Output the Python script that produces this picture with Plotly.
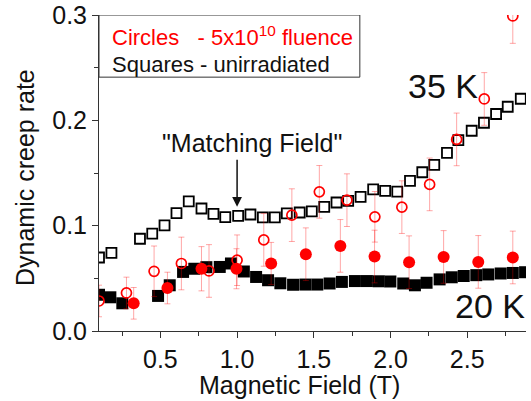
import plotly.graph_objects as go

# 35 K, unirradiated (open squares)
sq35_x = [0.100, 0.181, 0.367, 0.447, 0.527, 0.605, 0.685, 0.768, 0.846, 0.923,
          1.007, 1.087, 1.168, 1.246, 1.324, 1.408, 1.487, 1.568, 1.648, 1.724,
          1.805, 1.887, 1.965, 2.044, 2.127, 2.207, 2.285, 2.368, 2.442, 2.529,
          2.609, 2.688, 2.764, 2.849]
sq35_y = [0.0698, 0.0741, 0.0876, 0.0924, 0.1003, 0.1119, 0.1230, 0.1163, 0.1112, 0.1081,
          0.1093, 0.1106, 0.1078, 0.1078, 0.1116, 0.1125, 0.1135, 0.1179, 0.1220, 0.1236,
          0.1274, 0.1345, 0.1331, 0.1323, 0.1425, 0.1507, 0.1577, 0.1691, 0.1813, 0.1901,
          0.1977, 0.2060, 0.2129, 0.2205]

# 20 K, unirradiated (filled squares)
sq20_x = [0.100, 0.174, 0.252, 0.485, 0.561, 0.648, 0.721, 0.800, 0.887, 0.960,
          1.044, 1.124, 1.202, 1.282, 1.365, 1.445, 1.523, 1.603, 1.683, 1.768,
          1.846, 1.923, 1.999, 2.083, 2.159, 2.235, 2.320, 2.399, 2.477, 2.559,
          2.637, 2.718, 2.797, 2.877]
sq20_y = [0.0344, 0.0320, 0.0263, 0.0333, 0.0434, 0.0561, 0.0591, 0.0606, 0.0608, 0.0641,
          0.0565, 0.0513, 0.0482, 0.0453, 0.0439, 0.0441, 0.0441, 0.0451, 0.0466, 0.0474,
          0.0474, 0.0472, 0.0470, 0.0451, 0.0434, 0.0458, 0.0490, 0.0510, 0.0522, 0.0530,
          0.0537, 0.0546, 0.0551, 0.0558]

# 35 K, 5x10^10 fluence (open circles)
c35_x = [0.100, 0.279, 0.459, 0.637, 0.817, 1.000, 1.174, 1.357, 1.536, 1.716,
         1.898, 2.074, 2.255, 2.431, 2.611, 2.797]
c35_y = [0.0285, 0.0361, 0.0567, 0.0641, 0.0570, 0.0672, 0.0865, 0.1100, 0.1321, 0.1242,
         0.1084, 0.1176, 0.1392, 0.1819, 0.2203, 0.2991]
c35_err = [0.015, 0.015, 0.024, 0.025, 0.025, 0.024, 0.025, 0.025, 0.025, 0.025,
           0.024, 0.025, 0.025, 0.025, 0.025, 0.026]

# 20 K, 5x10^10 fluence (filled circles)
c20_x = [0.326, 0.546, 0.768, 0.996, 1.222, 1.448, 1.673, 1.896, 2.121, 2.346, 2.572, 2.797]
c20_y = [0.0263, 0.0408, 0.0591, 0.0591, 0.0641, 0.0729, 0.0808, 0.0707, 0.0653, 0.0703,
         0.0656, 0.0698]
c20_err = [0.015, 0.015, 0.021, 0.019, 0.020, 0.025, 0.025, 0.025, 0.025, 0.025, 0.025, 0.025]

x_ticks = [0.5, 1.0, 1.5, 2.0, 2.5]
y_ticks = [0.0, 0.1, 0.2, 0.3]

FONT = "Liberation Sans, Arial, sans-serif"
RED = "#ff0000"
ERR = "rgba(255,0,0,0.35)"

fig = go.Figure()
fig.add_trace(go.Scatter(x=sq35_x, y=sq35_y, mode="markers",
                         marker=dict(symbol="square-open", size=10, color="black",
                                     line=dict(width=1.8, color="black"))))
fig.add_trace(go.Scatter(x=sq20_x, y=sq20_y, mode="markers",
                         marker=dict(symbol="square", size=12, color="black",
                                     line=dict(width=0))))
fig.add_trace(go.Scatter(x=c35_x, y=c35_y, mode="markers",
                         error_y=dict(type="data", array=c35_err, color=ERR, thickness=1, width=3),
                         marker=dict(symbol="circle-open", size=10, color=RED,
                                     line=dict(width=1.7, color=RED))))
fig.add_trace(go.Scatter(x=c20_x, y=c20_y, mode="markers",
                         error_y=dict(type="data", array=c20_err, color=ERR, thickness=1, width=3),
                         marker=dict(symbol="circle", size=12, color=RED, line=dict(width=0))))

axis_common = dict(showgrid=False, zeroline=False, showline=True, linecolor="#333333",
                   linewidth=1, tickcolor="#333333", ticklen=6, tickwidth=1,
                   ticklabeloverflow="allow",
                   tickfont=dict(family=FONT, size=25, color="#111111"))

fig.update_layout(
    width=531, height=401,
    margin=dict(l=99, r=5, t=15, b=70, autoexpand=False),
    paper_bgcolor="white", plot_bgcolor="white",
    showlegend=False,
    font=dict(family=FONT, color="#111111"),
    xaxis=dict(range=[0.1, 2.883], tickvals=x_ticks, ticktext=[f"{v:.1f}" for v in x_ticks],
               ticks="outside",
               minor=dict(dtick=0.25, tick0=0, ticks="outside", ticklen=4, tickcolor="#333333"),
               **axis_common),
    yaxis=dict(range=[0, 0.3], tickvals=y_ticks, ticktext=[f"{v:.1f}" for v in y_ticks],
               ticks="outside",
               minor=dict(dtick=0.05, tick0=0, ticks="outside", ticklen=4, tickcolor="#333333"),
               **axis_common),
    xaxis2=dict(overlaying="x", matches="x", side="top", anchor="y", showgrid=False,
                zeroline=False, showline=True, linecolor="#333333", ticks="inside",
                ticklen=6, tickcolor="#333333", tickvals=x_ticks, showticklabels=False),
    yaxis2=dict(overlaying="y", matches="y", side="right", anchor="x", showgrid=False,
                zeroline=False, showline=True, linecolor="#333333", ticks="inside",
                ticklen=6, tickcolor="#333333", tickvals=y_ticks, showticklabels=False),
)

# legend box (white, covering top ticks)
fig.add_shape(type="rect", xref="x", yref="y", x0=0.1, x1=1.8, y0=0.241, y1=0.3,
              fillcolor="white", line=dict(color="#333333", width=1), layer="above")

anns = [
    dict(text="Circles\u00a0\u00a0\u00a0- 5x10<sup>10</sup> fluence", xref="paper", yref="paper",
         x=(110 - 99) / 427, y=(331 - 36) / 316, xanchor="left", yanchor="middle",
         font=dict(size=22, color=RED, family=FONT), showarrow=False),
    dict(text="Squares - unirradiated", xref="paper", yref="paper",
         x=(110 - 99) / 427, y=(331 - 64) / 316, xanchor="left", yanchor="middle",
         font=dict(size=22, color="#111111", family=FONT), showarrow=False),
    dict(text="\"Matching Field\"", xref="x", yref="y", x=1.099, y=0.1787,
         xanchor="center", yanchor="middle", font=dict(size=25, color="#111111", family=FONT),
         showarrow=False),
    dict(text="", xref="x", yref="y", x=1.0, y=0.118, axref="x", ayref="y", ax=1.0, ay=0.164,
         showarrow=True, arrowhead=2, arrowsize=1.3, arrowwidth=1.5, arrowcolor="#111111"),
    dict(text="35 K", xref="x", yref="y", x=2.342, y=0.2326, xanchor="center", yanchor="middle",
         font=dict(size=34, color="#111111", family=FONT), showarrow=False),
    dict(text="20 K", xref="x", yref="y", x=2.648, y=0.0233, xanchor="center", yanchor="middle",
         font=dict(size=34, color="#111111", family=FONT), showarrow=False),
    dict(text="Magnetic Field (T)", xref="paper", yref="paper", x=(299 - 99) / 427,
         y=(331 - 384.5) / 316, xanchor="center", yanchor="middle",
         font=dict(size=25, color="#111111", family=FONT), showarrow=False),
    dict(text="Dynamic creep rate", xref="paper", yref="paper", x=(25 - 99) / 427,
         y=(331 - 178) / 316, xanchor="center", yanchor="middle", textangle=-90,
         font=dict(size=25, color="#111111", family=FONT), showarrow=False),
]
for a in anns:
    fig.add_annotation(**a)

# remove the default 8px page margin so the figure sits at the window's top-left corner
fig.write_html("out.html", config={"displayModeBar": False},
               post_script="document.body.style.margin='0';")
